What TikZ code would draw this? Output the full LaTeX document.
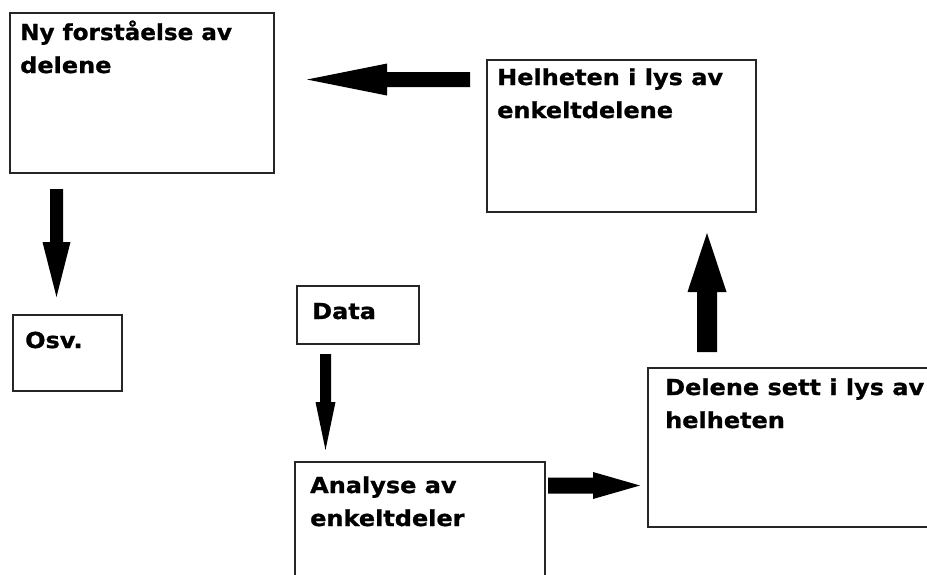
\documentclass[tikz,border=0pt]{standalone}
\usepackage{fontspec}
\newfontfamily\lblfont{DejaVu Sans}[FakeStretch=1.09,FakeBold=1]
\newfontfamily\lblnarrow{DejaVu Sans Bold}[FakeStretch=1.05,FakeBold=1]
\usetikzlibrary{calc}
\newcommand{\boxlines}[1]{\begin{tabular}[t]{@{}l@{}}#1\end{tabular}}
\tikzset{
  frame/.style={draw=black!85, line width=1.5pt, fill=none},
  lbl/.style={anchor=base west, inner sep=0pt, font=\lblfont\bfseries\fontsize{22}{33}\selectfont},
  blockarrow/.style={fill=black, draw=none},
}
\begin{document}
\begin{tikzpicture}[x=1pt,y=-1pt]
\useasboundingbox (0,0) rectangle (927,574);
\clip (0,0) rectangle (927,574);
% boxes
\draw[frame] (10,13) rectangle (274,173);
\draw[frame] (487,60) rectangle (756,212);
\draw[frame] (13,315) rectangle (122,391);
\draw[frame] (297,286) rectangle (419,344);
\draw[frame] (295,462) rectangle (545,620);
\draw[frame] (648,368) rectangle (960,527);
% texts
\node[lbl] (t1) at (20,40) {\boxlines{{\lblnarrow Ny forståelse av}\\delene}};
\node[lbl] (t2) at (497,85) {\boxlines{Helheten i lys av\\enkeltdelene}};
\node[lbl] (t3) at (25,348) {Osv.};
\node[lbl] (t4) at (312,319) {Data};
\node[lbl] (t5) at (310,493) {\boxlines{Analyse av\\enkeltdeler}};
\node[lbl] (t6) at (665,395) {\boxlines{Delene sett i lys av\\helheten}};
% arrow end points
\coordinate (a1s) at (470,79.5);
\coordinate (a1e) at (307,79.5);
\coordinate (a2s) at (56.5,189);
\coordinate (a2e) at (56.5,297);
\coordinate (a3s) at (325.5,354);
\coordinate (a3e) at (325.5,450);
\coordinate (a4s) at (548,485.5);
\coordinate (a4e) at (640,485.5);
\coordinate (a5s) at (707,352);
\coordinate (a5e) at (707,233);
% arrows (block arrows: shaft + triangular head)
\fill[blockarrow] ($(a1s)+(0,-7.5)$) -- ($(a1e)+(80,-7.5)$) -- ($(a1e)+(80,-16)$) -- (a1e)
  -- ($(a1e)+(80,16)$) -- ($(a1e)+(80,7.5)$) -- ($(a1s)+(0,7.5)$) -- cycle;
\fill[blockarrow] ($(a2s)+(-6.5,0)$) -- ($(a2e)+(-6.5,-55)$) -- ($(a2e)+(-14,-55)$) -- (a2e)
  -- ($(a2e)+(14,-55)$) -- ($(a2e)+(6.5,-55)$) -- ($(a2s)+(6.5,0)$) -- cycle;
\fill[blockarrow] ($(a3s)+(-5.5,0)$) -- ($(a3e)+(-5.5,-48)$) -- ($(a3e)+(-10,-48)$) -- (a3e)
  -- ($(a3e)+(10,-48)$) -- ($(a3e)+(5.5,-48)$) -- ($(a3s)+(5.5,0)$) -- cycle;
\fill[blockarrow] ($(a4s)+(0,-8)$) -- ($(a4e)+(-47,-8)$) -- ($(a4e)+(-47,-13.5)$) -- (a4e)
  -- ($(a4e)+(-47,13.5)$) -- ($(a4e)+(-47,8)$) -- ($(a4s)+(0,8)$) -- cycle;
\fill[blockarrow] ($(a5s)+(-10,0)$) -- ($(a5e)+(-10,59)$) -- ($(a5e)+(-19.5,59)$) -- (a5e)
  -- ($(a5e)+(19.5,59)$) -- ($(a5e)+(10,59)$) -- ($(a5s)+(10,0)$) -- cycle;
\end{tikzpicture}
\end{document}
